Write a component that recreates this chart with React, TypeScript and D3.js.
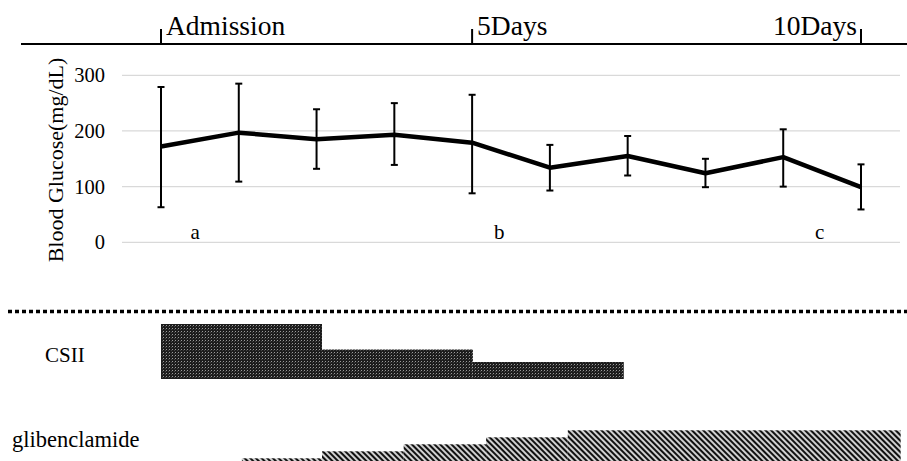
import React from "react";
import * as d3 from "d3";

const timepoints = [0, 1, 2, 3, 4, 5, 6, 7, 8, 9];
const meanGlucose = [172, 197, 185, 193, 179, 134, 155, 124, 153, 99];
const upperGlucose = [279, 285, 239, 250, 265, 175, 191, 150, 203, 140];
const lowerGlucose = [63, 109, 132, 139, 88, 93, 120, 99, 100, 59];
const yTicks = [0, 100, 200, 300];

const dayMarkers = [
  { label: "Admission", t: 0, anchor: "start" },
  { label: "5Days", t: 4, anchor: "start" },
  { label: "10Days", t: 9, anchor: "end" },
];

const groupLabels = [
  { label: "a", t: 0.44 },
  { label: "b", t: 4.35 },
  { label: "c", t: 8.47 },
];
const groupLabelValue = 10;

// treatment steps: [start, end, level]
const csiiSteps = [
  { start: 0, end: 2.07, level: 55 },
  { start: 2.07, end: 4.01, level: 29.5 },
  { start: 4.01, end: 5.95, level: 17 },
];
const glibSteps = [
  { start: 1.04, end: 2.07, level: 1 },
  { start: 2.07, end: 3.12, level: 2 },
  { start: 3.12, end: 4.18, level: 3 },
  { start: 4.18, end: 5.23, level: 4 },
  { start: 5.23, end: 9.51, level: 5 },
];

const W = 907;
const H = 461;
const serif = "Liberation Serif";
const ts = { fontFamily: serif };

export default function App() {
  const x = d3.scaleLinear().domain([0, 9]).range([161, 861]);
  const y = d3.scaleLinear().domain([0, 300]).range([242.3, 75.3]);
  const csiiY = d3.scaleLinear().domain([0, 55]).range([379, 324]);
  const glibY = d3.scaleLinear().domain([0, 5]).range([465.3, 430.3]);

  const line = d3
    .line<number>()
    .x((_, i) => x(timepoints[i]))
    .y((d) => y(d));

  const topY = 44;

  return (
    <svg
      width={W}
      height={H}
      style={{ position: "absolute", left: 0, top: 0, display: "block", background: "#fff" }}
    >
      <defs>
        <pattern id="csii" width={3} height={3} patternUnits="userSpaceOnUse">
          <rect width={3} height={3} fill="#1c1c1c" />
          <rect x={1} y={1} width={1} height={1} fill="#9a9a9a" />
          <rect x={0} y={2} width={1} height={1} fill="#444" />
        </pattern>
        <pattern
          id="hatch"
          width={4}
          height={4}
          patternUnits="userSpaceOnUse"
          patternTransform="rotate(-45)"
        >
          <rect width={4} height={4} fill="#d0d0d0" />
          <rect x={0} y={0} width={2} height={4} fill="#111" />
        </pattern>
      </defs>

      {/* top timeline */}
      <line x1={21} x2={907} y1={topY} y2={topY} stroke="#000" strokeWidth={2} />
      {dayMarkers.map((m) => (
        <g key={m.label}>
          <line x1={x(m.t)} x2={x(m.t)} y1={29} y2={topY} stroke="#000" strokeWidth={2} />
          <text
            x={m.anchor === "start" ? x(m.t) + 5 : x(m.t) - 4}
            y={35}
            fontSize={27.5}
            textAnchor={m.anchor}
            fill="#000"
            style={ts}
          >
            {m.label}
          </text>
        </g>
      ))}

      {/* gridlines */}
      {yTicks.map((t) => (
        <g key={t}>
          <line x1={122} x2={900} y1={y(t)} y2={y(t)} stroke="#d9d9d9" strokeWidth={1.3} />
          <text x={105} y={y(t) + 7} fontSize={20.5} textAnchor="end" fill="#000" style={ts}>
            {t}
          </text>
        </g>
      ))}

      <text
        transform={`translate(63,160) rotate(-90)`}
        fontSize={22}
        textAnchor="middle"
        fill="#000"
        style={ts}
      >
        Blood Glucose(mg/dL)
      </text>

      {/* error bars */}
      {timepoints.map((t, i) => (
        <g key={t} stroke="#000" strokeWidth={2}>
          <line x1={x(t)} x2={x(t)} y1={y(upperGlucose[i])} y2={y(lowerGlucose[i])} />
          <line x1={x(t) - 3.5} x2={x(t) + 3.5} y1={y(upperGlucose[i])} y2={y(upperGlucose[i])} />
          <line x1={x(t) - 3.5} x2={x(t) + 3.5} y1={y(lowerGlucose[i])} y2={y(lowerGlucose[i])} />
        </g>
      ))}

      <path d={line(meanGlucose) || ""} fill="none" stroke="#000" strokeWidth={4.5} strokeLinejoin="round" />

      {groupLabels.map((g) => (
        <text key={g.label} x={x(g.t)} y={y(groupLabelValue) + 2} fontSize={21} textAnchor="middle" fill="#000" style={ts}>
          {g.label}
        </text>
      ))}

      {/* dotted separator */}
      <line
        x1={8}
        x2={907}
        y1={311.5}
        y2={311.5}
        stroke="#000"
        strokeWidth={3.5}
        strokeDasharray="4 3"
      />

      {/* CSII */}
      <text x={45} y={362} fontSize={21} fill="#000" style={ts}>CSII</text>
      {csiiSteps.map((s, i) => (
        <rect
          key={i}
          x={x(s.start)}
          width={x(s.end) - x(s.start)}
          y={csiiY(s.level)}
          height={csiiY(0) - csiiY(s.level)}
          fill="url(#csii)"
        />
      ))}

      {/* glibenclamide */}
      <text x={12} y={447} fontSize={22.5} fill="#000" style={ts}>glibenclamide</text>
      {glibSteps.map((s, i) => (
        <rect
          key={i}
          x={x(s.start)}
          width={x(s.end) - x(s.start)}
          y={glibY(s.level)}
          height={glibY(0) - glibY(s.level)}
          fill="url(#hatch)"
        />
      ))}
    </svg>
  );
}
